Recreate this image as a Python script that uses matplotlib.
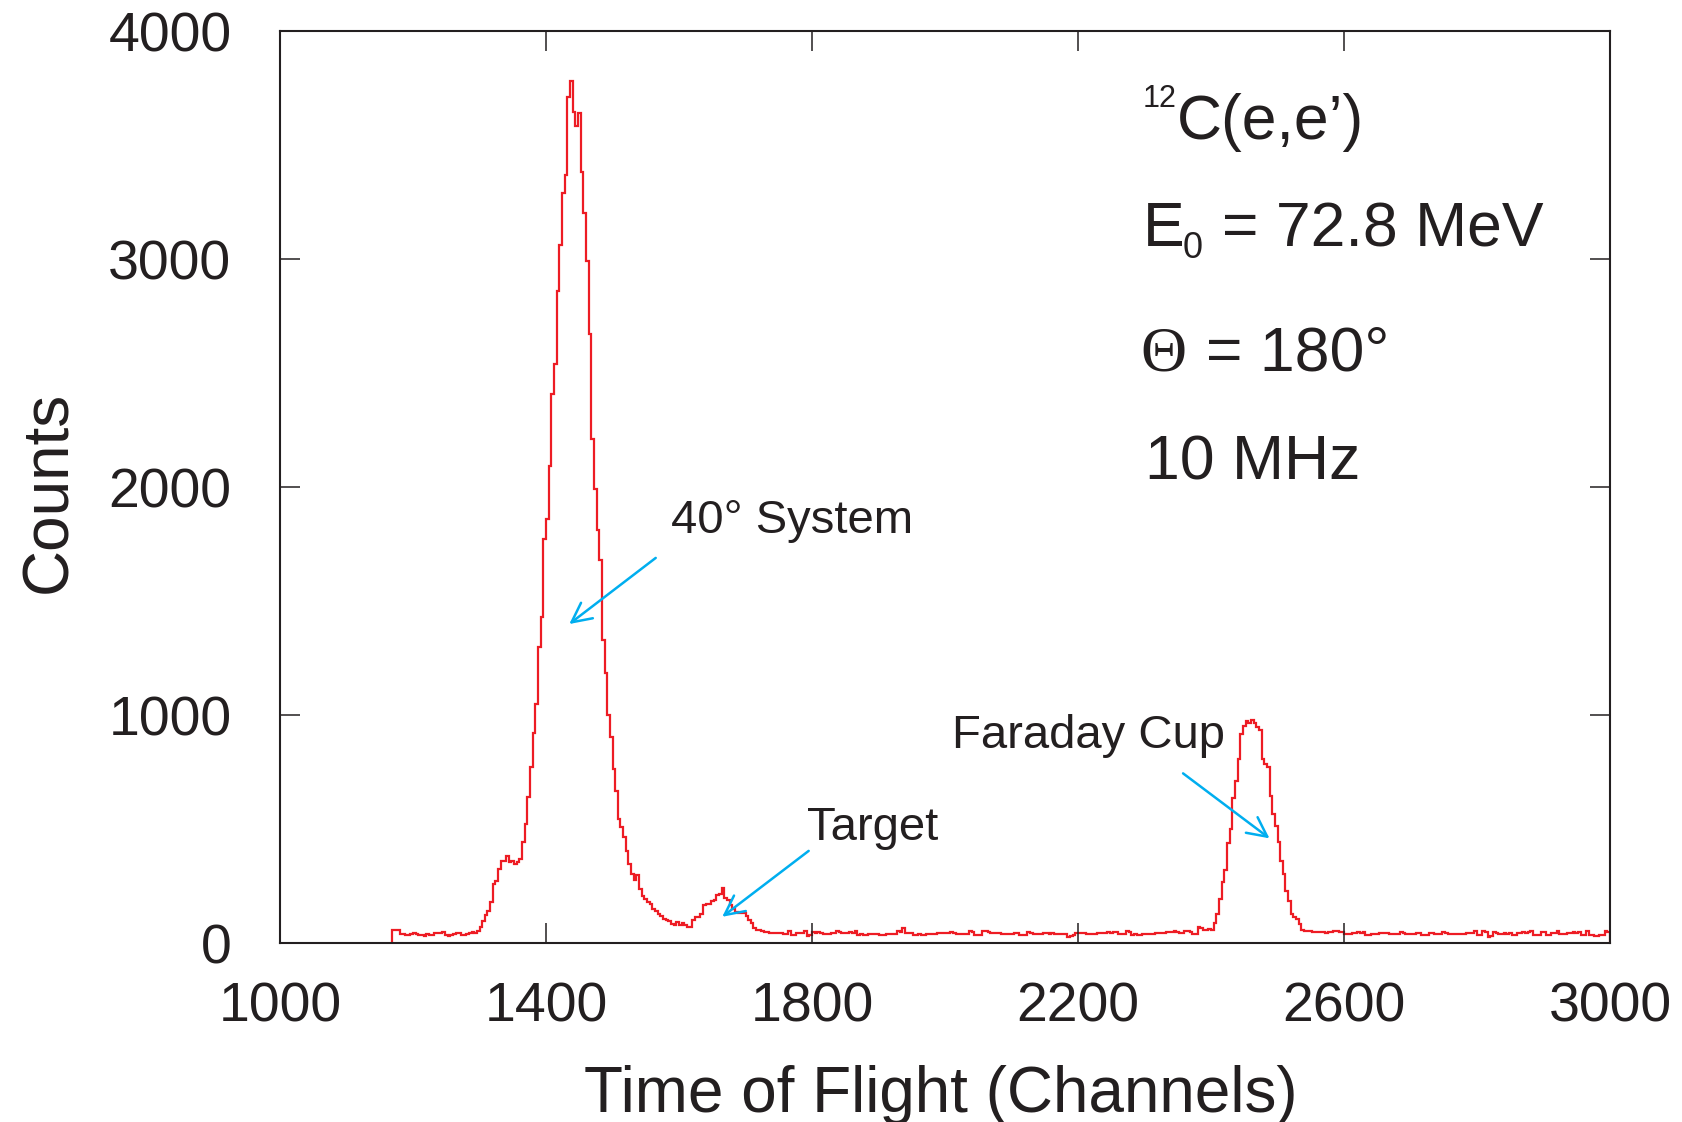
import numpy as np
import matplotlib
matplotlib.use("Agg")
import matplotlib.pyplot as plt

plt.rcParams["font.family"] = ["Liberation Sans", "DejaVu Sans"]

# ToF spectrum, 4-channel bins, first filled bin at channel 1168
bin_width = 4
first_channel = 1168

# 1168 .. 1292 : flat background before the main peak
pre_peak = [57, 57, 55, 39, 38, 37, 36, 38, 42, 40, 37, 36, 31, 39, 37, 35,
            42, 44, 43, 47, 33, 32, 37, 38, 45, 44, 37, 36, 38, 42, 47, 44]

# 1296 .. 1520 : shoulder + 40 deg system peak
main_peak = [54, 69, 98, 121, 140, 178, 259, 273, 325, 361, 361, 383,
             354, 361, 346, 357, 368, 444, 522, 639, 770, 920, 1050, 1300,
             1430, 1770, 1860, 2090, 2410, 2540, 2860, 3060, 3290, 3370, 3710, 3780,
             3645, 3585, 3640, 3380, 3200, 2990, 2670, 2210, 1990, 1810, 1680, 1330,
             1186, 998, 903, 765, 667, 545, 509, 465, 404]

# 1524 .. 1732 : tail with the target bump
tail = [348, 304, 278, 297, 238, 205, 194, 180, 173, 151, 140, 129,
        117, 107, 99, 96, 85, 77, 92, 77, 88, 77, 70, 72,
        102, 114, 114, 129, 165, 173, 173, 184, 190, 209, 216, 241,
        199, 190, 165, 150, 137, 133, 133, 133, 120, 101, 89, 67,
        56, 56, 52, 48, 48]

# 1736 .. 2392 : background between target and Faraday cup
flat = [44, 42, 45, 44, 43, 39, 39, 54, 35, 36, 44, 43, 45, 51, 32, 33,
        47, 46, 47, 45, 39, 40, 38, 44, 43, 51, 50, 44, 45, 43, 47, 46,
        54, 37, 38, 36, 37, 39, 40, 39, 38, 35, 36, 35, 39, 40, 38, 39,
        51, 50, 64, 44, 43, 44, 37, 36, 38, 37, 37, 39, 40, 39, 38, 44,
        45, 43, 44, 44, 47, 46, 39, 40, 38, 39, 39, 51, 50, 35, 36, 35,
        51, 52, 50, 44, 43, 45, 44, 39, 40, 38, 39, 40, 42, 42, 35, 36,
        34, 47, 46, 39, 40, 39, 38, 42, 43, 41, 42, 39, 38, 40, 39, 39,
        28, 30, 35, 44, 45, 43, 44, 39, 40, 38, 39, 44, 43, 45, 44, 47,
        46, 48, 47, 39, 40, 39, 51, 50, 37, 38, 36, 37, 38, 39, 40, 39,
        39, 44, 43, 45, 44, 50, 49, 50, 51, 50, 44, 43, 51, 52, 50, 39,
        40, 69, 66, 57, 56]

# 2396 .. 2536 : Faraday cup peak
faraday = [61, 57, 88, 127, 193, 266, 320, 437, 500, 634, 712, 807,
           917, 953, 975, 963, 978, 963, 949, 934, 807, 785, 770, 646,
           566, 515, 442, 361, 303, 230, 186, 127, 113, 105, 83, 57]

# 2540 .. 2996 : background up to the end of the range
post = [54, 51, 52, 50, 48, 47, 49, 48, 46, 48, 49, 54, 53, 49,
        47, 39, 40, 38, 42, 43, 47, 46, 47, 37, 36, 39, 40, 39, 44, 43,
        45, 44, 39, 40, 38, 39, 47, 46, 39, 40, 39, 38, 44, 43, 37, 36,
        37, 44, 45, 39, 40, 39, 47, 46, 39, 40, 39, 38, 39, 40, 39, 44,
        43, 44, 54, 37, 36, 51, 50, 28, 30, 47, 46, 39, 40, 42, 41, 42,
        35, 36, 44, 43, 47, 46, 47, 51, 35, 36, 35, 50, 49, 37, 36, 44,
        45, 54, 39, 40, 39, 44, 43, 47, 46, 47, 35, 36, 51, 37, 36, 29,
        30, 35, 34, 51, 50]

x_ticks = [1000, 1400, 1800, 2200, 2600, 3000]
y_ticks = [0, 1000, 2000, 3000, 4000]

RED = "#ed1c24"
CYAN = "#00aeef"
INK = "#231f20"

counts = np.concatenate([pre_peak, main_peak, tail, flat, faraday, post])
edges = first_channel + bin_width * np.arange(len(counts) + 1)

W, H = 1682, 1122
fig = plt.figure(figsize=(W / 100, H / 100), dpi=100)
ax = fig.add_axes([280 / W, 1 - 943 / H, 1330 / W, 912 / H])

ax.stairs(counts, edges, baseline=0, color=RED, lw=1.6)

ax.set_xlim(1000, 3000)
ax.set_ylim(0, 4000)
ax.set_xticks(x_ticks)
ax.set_yticks(y_ticks)
ax.tick_params(which="both", direction="in", top=True, right=True,
               length=14.5, width=1.1, color=INK, labelcolor=INK, labelsize=40)
ax.tick_params(axis="x", pad=28)
ax.tick_params(axis="y", pad=35)
for s in ax.spines.values():
    s.set_linewidth(1.5)
    s.set_color(INK)

ax.set_xlabel("Time of Flight (Channels)", fontsize=46, color=INK, va="baseline")
ax.xaxis.set_label_coords((941 - 280) / 1330, (943 - 1112) / 912)
ax.set_ylabel("Counts", fontsize=46, color=INK, va="baseline")
ax.yaxis.set_label_coords((66 - 280) / 1330, (943 - 492) / 912)

# peak labels and arrows
labels = [("40° System", 1588, 1798), ("Target", 1793, 452), ("Faraday Cup", 2011, 857)]
arrows = [((1565, 1689), (1435, 1399)),
          ((1795, 404), (1665, 115)),
          ((2358, 744), (2488, 459))]
for txt, x, y in labels:
    ax.text(x, y, txt, fontsize=34, color=INK, va="baseline")
for start, tip in arrows:
    ax.annotate("", xy=tip, xytext=start,
                arrowprops=dict(arrowstyle="->, head_length=0.7, head_width=0.35",
                                color=CYAN, lw=1.8, mutation_scale=20,
                                shrinkA=0, shrinkB=0))

# reaction / beam info
big = dict(fontsize=45, color=INK, va="baseline")
small = dict(fontsize=22, color=INK, va="baseline")
ax.text(2297, 3668, "12", **small)
ax.text(2349, 3526, "C(e,e’)", **big)
ax.text(2297, 3057, "E", **big)
ax.text(2358, 3003, "0", fontsize=26, color=INK, va="baseline")
ax.text(2416, 3057, "= 72.8 MeV", **big)
ax.text(2294, 2509, "Θ", fontsize=46, color=INK, va="baseline",
        family=["Liberation Serif", "DejaVu Serif"])
ax.text(2393, 2509, "= 180°", **big)
ax.text(2301, 2035, "10 MHz", **big)

fig.savefig("out.png", dpi=100)
